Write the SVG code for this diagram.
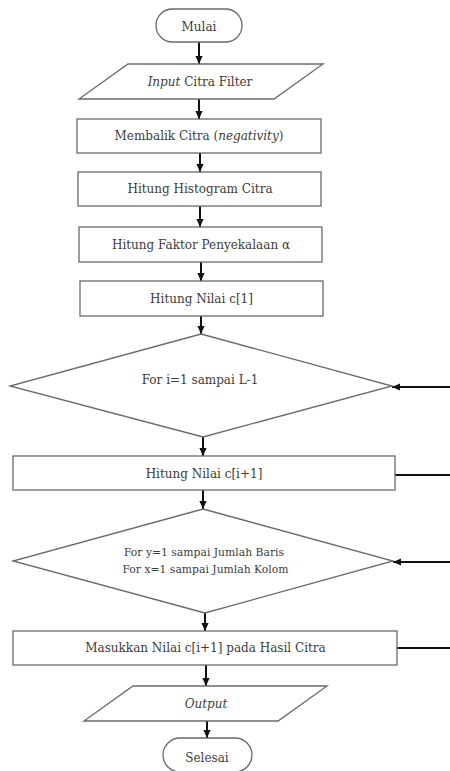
<svg xmlns="http://www.w3.org/2000/svg" width="450" height="771" viewBox="0 0 450 771">
  <defs>
    <style>
      .shape { fill: #ffffff; stroke: #6a6a6a; stroke-width: 1.3; }
      .lbl { font-family: 'DejaVu Serif', 'Noto Serif', 'Liberation Serif', serif; font-size: 12px; fill: #3c3c3c; text-anchor: middle; }
      .sm { font-size: 10.8px; }
      .it { font-style: italic; }
      .conn { fill: none; stroke: #111111; stroke-width: 2; }
    </style>
    <marker id="ah" viewBox="0 0 10 10" refX="10" refY="5" markerWidth="8" markerHeight="8" markerUnits="userSpaceOnUse" orient="auto">
      <path d="M0,0.5 L10,5 L0,9.5 z" fill="#111111"/>
    </marker>
  </defs>

  <rect width="450" height="771" fill="#ffffff"/>

  <!-- connectors -->
  <g id="connectors">
    <line class="conn" x1="199" y1="42" x2="199" y2="64" marker-end="url(#ah)"/>
    <line class="conn" x1="199" y1="99" x2="199" y2="119" marker-end="url(#ah)"/>
    <line class="conn" x1="200" y1="153" x2="200" y2="172" marker-end="url(#ah)"/>
    <line class="conn" x1="200" y1="206" x2="200" y2="227" marker-end="url(#ah)"/>
    <line class="conn" x1="201" y1="262" x2="201" y2="281" marker-end="url(#ah)"/>
    <line class="conn" x1="201" y1="316" x2="201" y2="334" marker-end="url(#ah)"/>
    <line class="conn" x1="203" y1="437" x2="203" y2="456" marker-end="url(#ah)"/>
    <line class="conn" x1="203" y1="490" x2="203" y2="509" marker-end="url(#ah)"/>
    <line class="conn" x1="205" y1="613" x2="205" y2="631" marker-end="url(#ah)"/>
    <line class="conn" x1="206" y1="665" x2="206" y2="686" marker-end="url(#ah)"/>
    <line class="conn" x1="207" y1="721" x2="207" y2="738" marker-end="url(#ah)"/>
    <!-- loop returns entering from the right edge -->
    <line class="conn" x1="450" y1="387" x2="392" y2="387" marker-end="url(#ah)"/>
    <line class="conn" x1="395" y1="475" x2="450" y2="475"/>
    <line class="conn" x1="450" y1="562" x2="393" y2="562" marker-end="url(#ah)"/>
    <line class="conn" x1="397" y1="648" x2="450" y2="648"/>
  </g>

  <g id="start">
    <rect class="shape" x="156" y="9" width="86" height="33" rx="16.5" ry="16.5"/>
    <text class="lbl" x="199" y="31">Mulai</text>
  </g>

  <g id="input">
    <polygon class="shape" points="128,64 323,64 274,99 79,99"/>
    <text class="lbl" x="200" y="86"><tspan class="it">Input</tspan> Citra Filter</text>
  </g>

  <g id="negativity">
    <rect class="shape" x="77" y="119" width="244" height="34"/>
    <text class="lbl" x="199" y="140">Membalik Citra (<tspan class="it">negativity</tspan>)</text>
  </g>

  <g id="histogram">
    <rect class="shape" x="78" y="172" width="243" height="34"/>
    <text class="lbl" x="200" y="193">Hitung Histogram Citra</text>
  </g>

  <g id="scale-factor">
    <rect class="shape" x="79" y="227" width="243" height="35"/>
    <text class="lbl" x="201" y="249">Hitung Faktor Penyekalaan α</text>
  </g>

  <g id="c1">
    <rect class="shape" x="80" y="281" width="243" height="35"/>
    <text class="lbl" x="201.5" y="303">Hitung Nilai c[1]</text>
  </g>

  <g id="loop-i">
    <polygon class="shape" points="201,334 392,386 203,437 10,386"/>
    <text class="lbl" x="200" y="384">For i=1 sampai L-1</text>
  </g>

  <g id="c-next">
    <rect class="shape" x="13" y="456" width="382" height="34"/>
    <text class="lbl" x="204" y="478">Hitung Nilai c[i+1]</text>
  </g>

  <g id="loop-xy">
    <polygon class="shape" points="203,509 393,561 205,613 13,561"/>
    <text class="lbl sm" x="204" y="556">For y=1 sampai Jumlah Baris</text>
    <text class="lbl sm" x="205.5" y="573">For x=1 sampai Jumlah Kolom</text>
  </g>

  <g id="assign">
    <rect class="shape" x="13" y="631" width="384" height="34"/>
    <text class="lbl" x="205.5" y="652">Masukkan Nilai c[i+1] pada Hasil Citra</text>
  </g>

  <g id="output">
    <polygon class="shape" points="133,686 327,686 278,721 84,721"/>
    <text class="lbl it" x="206" y="708">Output</text>
  </g>

  <g id="end">
    <rect class="shape" x="163" y="738" width="89" height="34" rx="17" ry="17"/>
    <text class="lbl" x="207" y="762">Selesai</text>
  </g>
</svg>
